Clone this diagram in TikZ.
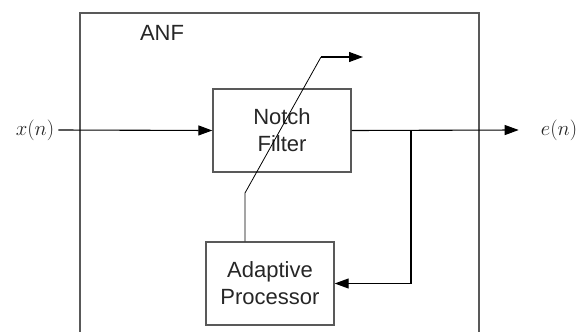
\documentclass[tikz,border=0pt]{standalone}
\usepackage{fontspec}
\newfontfamily\arialfont{Liberation Sans}
\usepackage{tikz}
\usetikzlibrary{positioning,arrows.meta,calc}

\begin{document}
\begin{tikzpicture}[
  x=1pt, y=-1pt,
  every node/.style = {font=\fontsize{22}{27}\selectfont\arialfont, text=black!85},
  box/.style   = {draw=black!65, line width=1.4pt, align=center,
                  inner sep=2pt},
  sig/.style   = {font=\fontsize{20}{24}\selectfont, inner sep=4pt},
  ln/.style    = {line width=1.1pt, black},
  ar/.style    = {ln, -{Triangle[length=14pt,width=10pt]}}
]
\useasboundingbox (0,0) rectangle (584,332);

% outer ANF frame, open at the bottom
\draw[black!65, line width=1.4pt] (80,332) -- (80,13) -- (479,13) -- (479,332);
\node (anf) at (162,33) {ANF};

\node[box, minimum width=138pt, minimum height=83pt] (notch) at (282,130.5)
  {Notch\\Filter};
\node[box, minimum width=128pt, minimum height=83pt] (adapt) at (270,283.5)
  {Adaptive\\Processor};

\node[sig] (xin)  at (35,130)  {$x(n)$};
\node[sig] (eout) at (559,130) {$e(n)$};

\coordinate (tap)   at (411,130);
\coordinate (kneeB) at (245,193);
\coordinate (kneeT) at (321,57);
\coordinate (tipT)  at (363,57);

\draw[ar] (xin.east) -- (notch.west);
\draw[ar] (notch.east) -- ([xshift=-18pt]eout.west);
\draw[ar] (tap) |- (adapt.east);

% adjustment path through the filter
\draw[ln, line width=0.8pt] (adapt.north -| kneeB) -- (kneeB) -- (kneeT);
\draw[ar] (kneeT) -- (tipT);

\end{tikzpicture}
\end{document}
